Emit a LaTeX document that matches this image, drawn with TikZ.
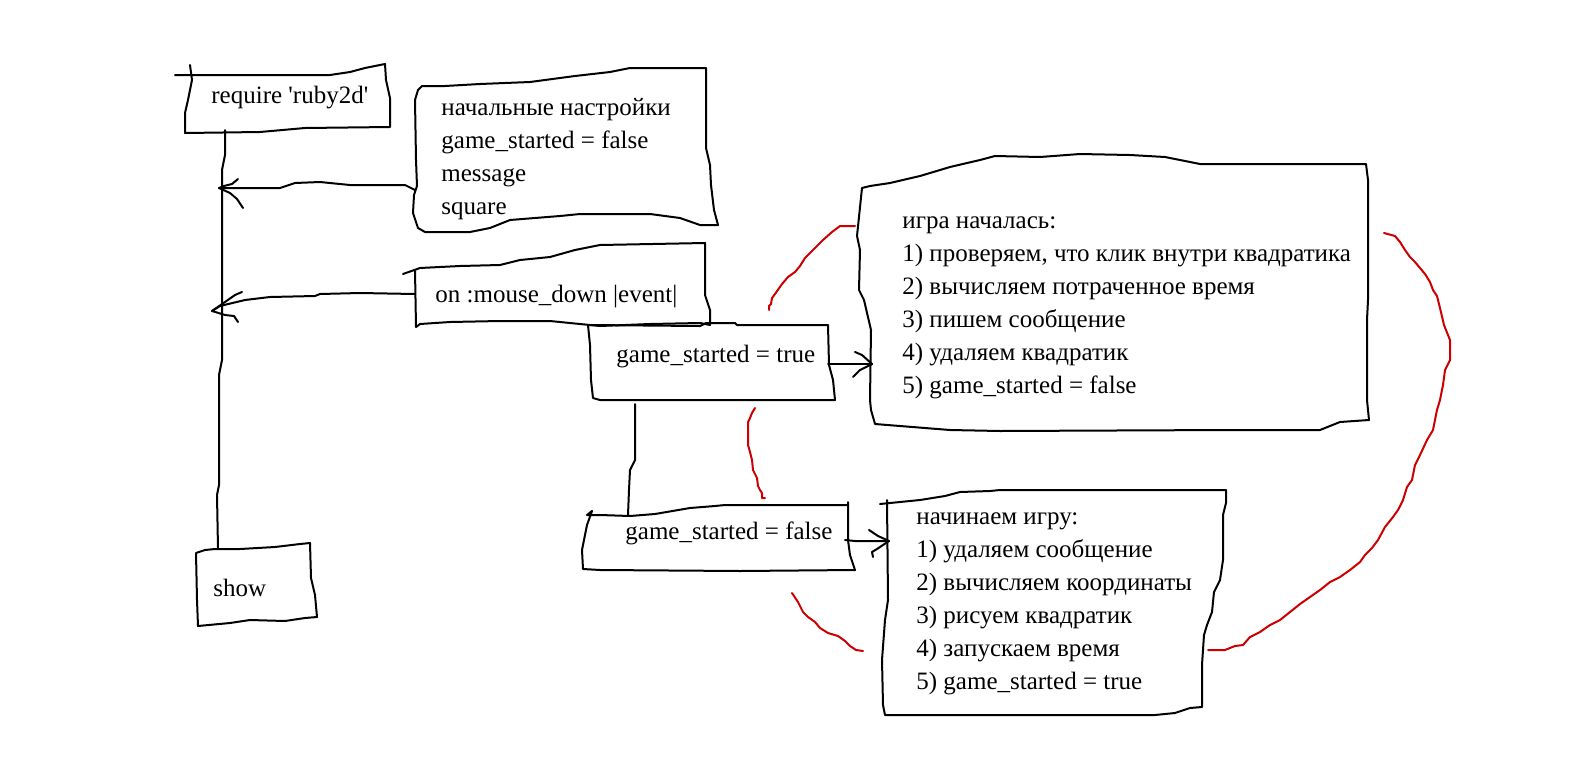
\documentclass[tikz,border=0pt]{standalone}
\usepackage{fontspec}
\setmainfont{Liberation Serif}
\definecolor{penred}{RGB}{204,0,0}
\tikzset{
  pen/.style={line width=1pt, line join=round, line cap=round, black},
  redpen/.style={line width=1pt, line join=round, line cap=round, penred},
  txt/.style={anchor=west, inner sep=0pt, align=left, font=\fontsize{12.5}{16.5}\selectfont},
}
\begin{document}
\begin{tikzpicture}[x=0.5pt,y=-0.5pt]
\useasboundingbox (0,0) rectangle (1570,772);
\fill[white] (0,0) rectangle (1570,772);

% box 1 require
\draw[pen] (175,75) -- (330,75) -- (350,72) -- (365,68) -- (385,64);
\draw[pen] (190,65) -- (192,80) -- (188,100) -- (185,113) -- (185,133) -- (260,132) -- (305,128) -- (390,127) -- (390,98) -- (386,80) -- (385,64);
\node[txt] (req) at (211,98) {require \textquotesingle ruby2d\textquotesingle};

% main vertical line
\coordinate (vtop) at (225,130);
\coordinate (vbot) at (218,549);
\draw[pen] (vtop) -- (225,155) -- (222,170) -- (222,360) -- (219,375) -- (219,485) -- (217,495) -- (vbot);

% show box
\draw[pen] (196,553) -- (205,550) -- (215,549) -- (240,549) -- (275,547) -- (300,544) -- (310,543) -- (311,578) -- (315,595) -- (317,617) -- (305,618) -- (285,621) -- (250,620) -- (230,623) -- (198,626) -- (197,600) -- cycle;
\node[txt] (show) at (213,588) {show};

% box 2 settings
\draw[pen] (418,90) -- (422,86) -- (445,86) -- (480,84) -- (530,82) -- (575,76) -- (610,72) -- (630,68) -- (706,68) -- (706,148) -- (710,165) -- (711,185) -- (714,210) -- (718,225) -- (700,225) -- (680,218) -- (650,214) -- (580,214) -- (560,216) -- (510,220) -- (490,228) -- (470,232) -- (425,232) -- (418,228) -- (413,213) -- (414,195) -- (417,186) -- (416,160) -- (415,100) -- cycle;
\node[txt] (init) at (441,159) {начальные настройки\\game\_started = false\\message\\square};

% arrow box2 -> line
\coordinate (a1s) at (415,190);
\coordinate (a1e) at (219,188);
\draw[pen] (a1s) -- (405,185) -- (350,185) -- (320,182) -- (295,183) -- (280,188) -- (240,188) -- (a1e);
\draw[pen] (238,179) -- (232,184) -- (224,186) -- (a1e) -- (230,193) -- (237,199) -- (243,208);

% box 3 mouse_down
\draw[pen] (403,274) -- (420,268) -- (460,266) -- (500,265) -- (520,260) -- (550,257) -- (575,250) -- (600,245) -- (705,243) -- (705,295) -- (710,310) -- (710,325) -- (700,323) -- (650,324) -- (600,326) -- (550,321) -- (500,321) -- (450,322) -- (420,324) -- (416,327) -- (415,270);
\node[txt] (mouse) at (435,297) {on :mouse\_down |event|};

% arrow box3 -> line
\coordinate (a2s) at (415,294);
\coordinate (a2e) at (212,311);
\draw[pen] (a2s) -- (360,293) -- (320,294) -- (315,296) -- (270,297) -- (245,300) -- (220,306) -- (a2e);
\draw[pen] (242,292) -- (235,295) -- (225,302) -- (a2e) -- (225,315) -- (234,316) -- (238,322);

% box 4 game_started = true
\draw[pen] (588,325) -- (700,326) -- (706,323) -- (735,323) -- (737,325) -- (828,325) -- (829,365) -- (833,380) -- (835,400) -- (600,400) -- (593,398) -- (591,380) -- (590,345) -- cycle;
\node[txt] (gtrue) at (616,357) {game\_started = true};

% arrow box4 -> box5
\coordinate (a3s) at (828,364);
\coordinate (a3e) at (872,364);
\draw[pen] (a3s) -- (a3e);
\draw[pen] (855,352) -- (862,355) -- (a3e) -- (860,370) -- (853,377);

% box 5 game started
\draw[pen] (862,188) -- (870,186) -- (890,183) -- (920,176) -- (950,167) -- (980,160) -- (995,156) -- (1040,157) -- (1080,154) -- (1130,155) -- (1165,157) -- (1200,164) -- (1366,164) -- (1368,180) -- (1368,300) -- (1367,320) -- (1367,400) -- (1369,420) -- (1340,422) -- (1320,430) -- (1230,430) -- (1000,431) -- (950,430) -- (900,426) -- (875,424) -- (871,410) -- (870,400) -- (871,330) -- (864,300) -- (859,290) -- (860,250) -- (857,236) -- cycle;
\node[txt] (started) at (902,308) {игра началась:\\1) проверяем, что клик внутри квадратика\\2) вычисляем потраченное время\\3) пишем сообщение\\4) удаляем квадратик\\5) game\_started = false};

% line box4 -> box6
\coordinate (vs) at (635,404);
\coordinate (ve) at (628,515);
\draw[pen] (vs) -- (635,460) -- (630,470) -- (629,490) -- (ve);

% box 6 game_started = false
\draw[pen] (592,511) -- (587,515) -- (600,515) -- (630,516) -- (655,514) -- (690,508) -- (715,506) -- (725,505) -- (848,505);
\draw[pen] (848,502) -- (848,540) -- (850,555) -- (855,570) -- (740,571) -- (600,570) -- (583,569) -- (582,550) -- (587,525) -- (592,511);
\node[txt] (gfalse) at (625,533) {game\_started = false};

% arrow box6 -> box7
\coordinate (a4s) at (845,540);
\coordinate (a4e) at (889,541);
\draw[pen] (a4s) -- (855,541) -- (a4e);
\draw[pen] (869,530) -- (878,536) -- (a4e) -- (877,549) -- (872,552) -- (873,557);

% box 7 start game
\draw[pen] (880,504) -- (890,503) -- (920,500) -- (945,496) -- (960,492) -- (990,491) -- (1000,490) -- (1226,490) -- (1226,503) -- (1223,515) -- (1223,560) -- (1220,580) -- (1214,592) -- (1212,612) -- (1207,625) -- (1204,635) -- (1202,665) -- (1202,707) -- (1190,708) -- (1175,713) -- (1155,715) -- (885,715) -- (883,705) -- (882,660) -- (885,620) -- (888,600) -- (887,500);
\node[txt] (begin) at (916,604) {начинаем игру:\\1) удаляем сообщение\\2) вычисляем координаты\\3) рисуем квадратик\\4) запускаем время\\5) game\_started = true};

% red curves
\draw[redpen] (855,226) -- (840,226) -- (832,232) -- (823,240) -- (815,248) -- (805,258) -- (800,266) -- (795,272) -- (788,277) -- (782,284) -- (775,294) -- (772,298) -- (771,304) -- (769,306) -- (769,310);
\draw[redpen] (755,408) -- (752,413) -- (750,418) -- (748,422) -- (748,445) -- (750,452) -- (752,460) -- (753,470) -- (757,478) -- (758,486) -- (760,490) -- (762,493) -- (762,498) -- (765,498);
\draw[redpen] (792,593) -- (798,602) -- (801,608) -- (803,612) -- (808,617) -- (815,622) -- (820,628) -- (828,633) -- (838,636) -- (845,641) -- (850,646) -- (856,650) -- (863,651);
\draw[redpen] (1384,233) -- (1395,236) -- (1400,242) -- (1405,250) -- (1410,257) -- (1415,262) -- (1420,268) -- (1425,274) -- (1430,282) -- (1433,290) -- (1437,296) -- (1440,308) -- (1444,325) -- (1450,340) -- (1450,360) -- (1445,370) -- (1443,385) -- (1440,400) -- (1437,410) -- (1433,430) -- (1427,440) -- (1420,455) -- (1415,465) -- (1412,480) -- (1407,487) -- (1403,500) -- (1398,510) -- (1393,517) -- (1385,527) -- (1378,540) -- (1372,548) -- (1365,555) -- (1360,562) -- (1350,570) -- (1340,577) -- (1330,582) -- (1320,590) -- (1310,597) -- (1300,604) -- (1290,612) -- (1280,620) -- (1270,625) -- (1260,632) -- (1250,637) -- (1243,645) -- (1235,646) -- (1225,650) -- (1208,650);
\end{tikzpicture}
\end{document}
